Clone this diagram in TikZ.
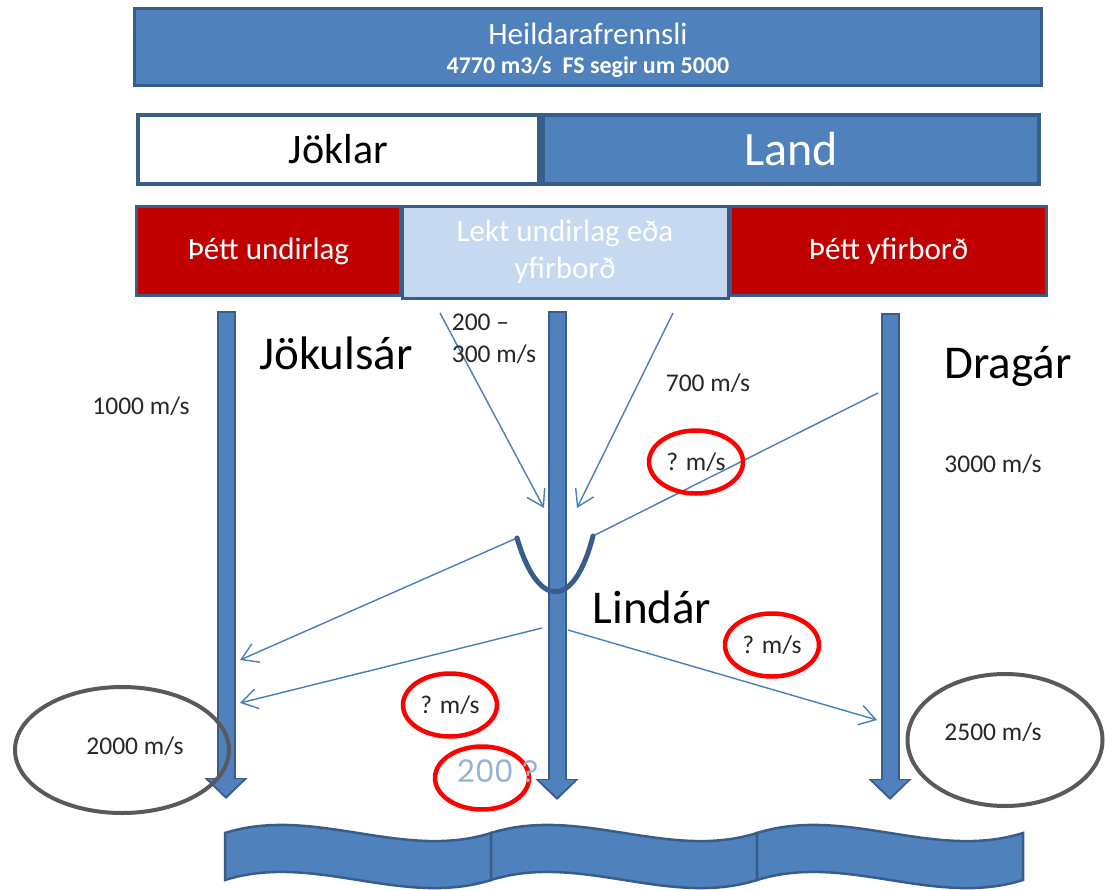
\documentclass[tikz,border=0pt]{standalone}
\usepackage{fontspec}
\setmainfont{Carlito}
\newfontfamily\geofont{Poppins}
\usetikzlibrary{positioning,arrows.meta,shapes.geometric}
\definecolor{accent}{HTML}{4F81BD}
\definecolor{edgeblue}{HTML}{385D8A}
\definecolor{flowblue}{HTML}{4A7EBB}
\definecolor{cellred}{HTML}{C00000}
\definecolor{cellpale}{HTML}{C6D9F1}
\definecolor{ringgrey}{HTML}{595959}
\definecolor{ringred}{HTML}{FF0000}
\definecolor{faintblue}{HTML}{95B3D7}

\begin{document}
\begin{tikzpicture}[
  x=1pt, y=-1pt,
  panel/.style={draw=edgeblue, line width=3pt, fill=accent, text=white, inner sep=0pt, align=center},
  cell/.style={draw=edgeblue, line width=4pt, inner sep=0pt, minimum height=69pt},
  layer/.style={draw=edgeblue, line width=3pt, inner sep=0pt, minimum height=89pt, text=white,
                align=center, font=\fontsize{31}{37}\selectfont},
  river/.style={font=\fontsize{47}{56}\selectfont, inner sep=0pt},
  rate/.style={font=\fontsize{25.5}{32}\selectfont, text=black!85, inner sep=0pt, align=left},
  trunk/.style={line width=19pt, draw=edgeblue, -{Triangle[width=42pt, length=21pt]}},
  trunkcore/.style={line width=15pt, draw=accent, shorten <=2pt, shorten >=3pt,
                    -{Triangle[width=35pt, length=17pt]}},
  flow/.style={draw=flowblue, line width=1.4pt, -{Straight Barb[length=16pt, width=20pt]}},
  vbend/.style={draw=edgeblue, line width=5pt, line cap=round},
  wave/.style={draw=edgeblue, line width=2.5pt, fill=accent},
  greyring/.style={ellipse, draw=ringgrey, line width=4pt, inner sep=0pt},
  redring/.style={ellipse, draw=ringred, line width=4.5pt, inner sep=0pt, minimum width=94pt,
                  minimum height=63pt, font=\fontsize{25.5}{30}\selectfont, text=black!85}
]
\useasboundingbox (0,0) rectangle (1105,889);
% --- header rows ---------------------------------------------------------
\node[panel, minimum width=907pt, minimum height=77pt] (heild) at (588,47) {};
\node[text=white, align=center, inner sep=0pt, font=\fontsize{31}{32}\selectfont] (heildtxt) at (588,50)
  {Heildarafrennsli\\[-3pt]
   {\fontsize{24}{28}\selectfont\bfseries 4770 m3/s\ \ FS segir um 5000}};
\node[cell, fill=white, minimum width=401pt] (jokl) at (338.5,149)
  {\fontsize{42}{50}\selectfont Jöklar};
\node[cell, fill=accent, text=white, minimum width=496pt, right=0pt of jokl] (land)
  {\fontsize{48}{56}\selectfont Land};
\node[layer, fill=cellred, minimum width=264pt] (thettU) at (268.5,251) {Þétt undirlag};
\node[layer, fill=cellred, minimum width=316pt] (thettY) at (888.5,251) {Þétt yfirborð};
\node[layer, fill=cellpale, minimum width=326pt, minimum height=92pt] (lekt) at (565,252)
  {Lekt undirlag eða\\yfirborð};
% --- river trunks --------------------------------------------------------
\coordinate (jtop) at (226,311); \coordinate (jbot) at (226,799);
\coordinate (ltop) at (557,311); \coordinate (lbot) at (557,800);
\coordinate (dtop) at (890,313); \coordinate (dbot) at (890,800);
\foreach \r in {j,l,d} {
  \draw[trunk] (\r top) -- (\r bot);
  \draw[trunkcore] (\r top) -- (\r bot);
}
% --- thin flows ----------------------------------------------------------
\coordinate (lektA) at (440,313);    \coordinate (inL) at (544,508);
\coordinate (lektB) at (673,313);    \coordinate (inR) at (577,508);
\coordinate (dragOut) at (878,393);
\coordinate (vleft) at (517,538);    \coordinate (vright) at (593,536);
\coordinate (jokIn1) at (240,660);
\coordinate (lindOut1) at (542,628); \coordinate (jokIn2) at (240,703);
\coordinate (lindOut2) at (568,630); \coordinate (dragIn) at (877,720);
\draw[flow] (lektA) -- (inL);
\draw[flow] (lektB) -- (inR);
\draw[flow, -] (dragOut) -- (vright);
\draw[flow] (vleft) -- (jokIn1);
\draw[flow] (lindOut1) -- (jokIn2);
\draw[flow] (lindOut2) -- (dragIn);
\draw[vbend] (vleft) .. controls (538,610) and (574,610) .. (vright);
% --- labels --------------------------------------------------------------
\node[river] (jokulsar) at (336,353) {Jökulsár};
\node[river] (dragar) at (1008,366) {Dragár};
\node[river] (lindar) at (652,607) {Lindár};
\node[rate] (r1000) at (141,406) {1000 m/s};
\node[rate] (r200) at (494,339) {200 --\\300 m/s};
\node[rate] (r700) at (708,383) {700 m/s};
\node[rate] (r3000) at (993,464) {3000 m/s};
% --- sea banner ----------------------------------------------------------
\foreach \x in {225,491,757} {
  \draw[wave] (\x,833) .. controls (\x+89,805) and (\x+177,861) .. (\x+266,833)
    -- (\x+266,880) .. controls (\x+177,908) and (\x+89,852) .. (\x,880) -- cycle;
}
% --- rings ---------------------------------------------------------------
\node[greyring, minimum width=214pt, minimum height=126pt] (jsum) at (122,750) {};
\node[rate] (r2000) at (135,746) {2000 m/s};
\node[greyring, minimum width=195pt, minimum height=132pt] (dsum) at (1005,740) {};
\node[rate] (r2500) at (993,732) {2500 m/s};
\node[redring] (q1) at (696,462) {? m/s};
\node[redring] (q2) at (772,645) {? m/s};
\node[redring] (q3) at (450,705) {? m/s};
\node[redring] (q4) at (482,778) {};
\node[font=\geofont\fontsize{31}{36}\selectfont, text=faintblue, inner sep=0pt] (l200)
  at (498,771) {200 ?};
\end{tikzpicture}
\end{document}
